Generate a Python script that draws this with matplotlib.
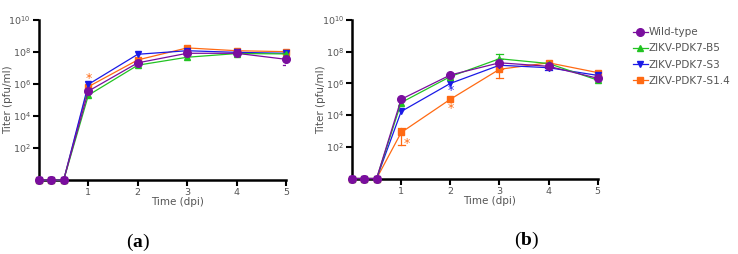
import matplotlib.pyplot as plt

plt.rcParams["mathtext.fontset"] = "custom"
plt.rcParams["mathtext.rm"] = "DejaVu Sans"
plt.rcParams["mathtext.bf"] = "Liberation Serif:bold"

# ------------------------------------------
# DATA (titer in pfu/ml, time in dpi)
# ------------------------------------------
days = [0, 0.25, 0.5, 1, 2, 3, 4, 5]

a_wt = [1, 1, 1, 3.6e5, 2.1e7, 8.3e7, 8.3e7, 3.5e7]
a_b5 = [1, 1, 1, 2.0e5, 1.5e7, 4.7e7, 8.0e7, 7.6e7]
a_s3 = [1, 1, 1, 9.5e5, 7.2e7, 1.2e8, 9.5e7, 8.3e7]
a_s14 = [1, 1, 1, 6.8e5, 3.2e7, 1.8e8, 1.2e8, 1.05e8]

b_wt = [1, 1, 1, 1.0e5, 3.4e6, 2.0e7, 1.2e7, 2.1e6]
b_b5 = [1, 1, 1, 6.2e4, 2.7e6, 3.6e7, 1.8e7, 1.6e6]
b_s3 = [1, 1, 1, 1.7e4, 1.0e6, 1.4e7, 9.8e6, 3.2e6]
b_s14 = [1, 1, 1, 8.0e2, 1.0e5, 7.8e6, 2.0e7, 4.8e6]

# error bars: (series, day, low, high)
a_err = [("wt", 5, 1.5e7, 3.5e7)]
b_err = [("s14", 1, 1.35e2, 1.45e3), ("b5", 3, 3.6e7, 6.8e7),
         ("s14", 3, 2.3e6, 7.8e6), ("s3", 4, 7.0e6, 9.8e6)]

# asterisks: (x, y, color)
a_stars = [(1, 2.2e6, "s14")]
b_stars = [(2, 3.6e5, "s3"), (2, 2.8e4, "s14"), (1.12, 1.6e2, "s14")]

labels = ["Wild-type", "ZIKV-PDK7-B5", "ZIKV-PDK7-S3", "ZIKV-PDK7-S1.4"]
yticks = [1e2, 1e4, 1e6, 1e8, 1e10]

style = {
    "wt": ("#7a0e9e", "o", 5.5),
    "b5": ("#22c322", "^", 5),
    "s3": ("#1a1ae6", "v", 5),
    "s14": ("#ff6a13", "s", 5),
}
grey = "#555555"


def draw(ax, series, errs, stars):
    for key in ["s14", "s3", "b5", "wt"]:
        c, m, ms = style[key]
        ax.plot(days, series[key], color=c, lw=0.9, marker=m, ms=ms,
                clip_on=False, zorder=3)
    for key, d, lo, hi in errs:
        c = style[key][0]
        ax.plot([d, d], [lo, hi], color=c, lw=0.9, zorder=2)
        for yy in (lo, hi):
            ax.plot([d - 0.07, d + 0.07], [yy, yy], color=c, lw=0.9, zorder=2)
    for x, y, key in stars:
        ax.text(x, y, "*", color=style[key][0], fontsize=9,
                ha="center", va="center")

    ax.set_yscale("log")
    ax.set_ylim(1, 1e10)
    ax.set_xlim(0, 5)
    ax.set_yticks(yticks)
    ax.set_yticklabels([r"$10^{%d}$" % i for i in (2, 4, 6, 8, 10)])
    ax.minorticks_off()
    ax.set_xticks([1, 2, 3, 4, 5])
    ax.tick_params(labelsize=6.8, labelcolor=grey, color="black",
                   length=4, width=1.5, pad=2)
    for s in ["top", "right"]:
        ax.spines[s].set_visible(False)
    for s in ["left", "bottom"]:
        ax.spines[s].set_linewidth(1.8)
    ax.set_ylabel("Titer (pfu/ml)", fontsize=7.5, color=grey)
    ax.yaxis.set_label_coords(-0.105, 0.5)
    ax.text(0.56, -0.14, "Time (dpi)", transform=ax.transAxes,
            fontsize=7.5, color=grey, ha="center", va="center")


fig = plt.figure(figsize=(7.38, 2.54), dpi=100)
ax1 = fig.add_axes([0.0528, 0.2913, 0.3347, 0.63])
ax2 = fig.add_axes([0.477, 0.2972, 0.333, 0.624])

draw(ax1, {"wt": a_wt, "b5": a_b5, "s3": a_s3, "s14": a_s14}, a_err, a_stars)
draw(ax2, {"wt": b_wt, "b5": b_b5, "s3": b_s3, "s14": b_s14}, b_err, b_stars)

# panel letters
fig.text(138 / 738, 1 - 242 / 254, r"($\mathbf{a}$)",
         fontsize=14, family="Liberation Serif", ha="center", va="center")
fig.text(527 / 738, 1 - 240 / 254, r"($\mathbf{b}$)",
         fontsize=14, family="Liberation Serif", ha="center", va="center")

# legend
handles = []
for key in ["wt", "b5", "s3", "s14"]:
    c, m, ms = style[key]
    h, = ax2.plot([], [], color=c, marker=m, ms=ms, lw=0.9)
    handles.append(h)
fig.legend(handles, labels, loc="upper left", bbox_to_anchor=(0.845, 0.93),
           frameon=False, fontsize=7.5, handlelength=1.4, handletextpad=0.1,
           labelspacing=0.6, labelcolor=grey)

plt.savefig("out.png", dpi=100)
plt.close()
